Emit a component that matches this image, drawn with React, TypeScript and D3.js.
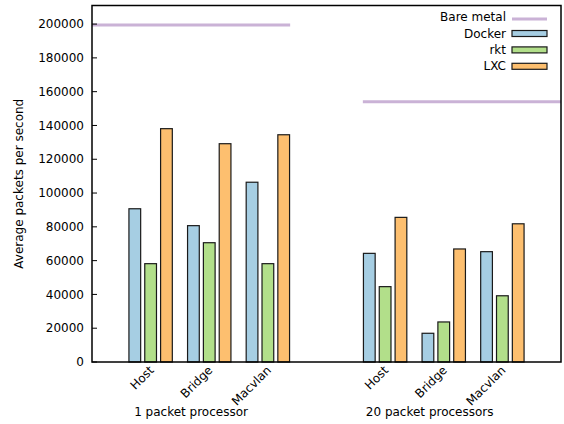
import React from "react";
import * as d3 from "d3";

// Throughput per networking mode, grouped by packet-processor count
const groups = ["1 packet processor", "20 packet processors"];
const modes = ["Host", "Bridge", "Macvlan"];
const series = ["Docker", "rkt", "LXC"];
const colors = ["#a6cee3", "#b2df8a", "#fdbf6f"];

const docker = [90700, 80700, 106400, 64300, 17000, 65300];
const rkt = [58200, 70600, 58200, 44600, 23700, 39200];
const lxc = [138100, 129200, 134500, 85600, 66900, 81800];
const bareMetal = [199400, 154100];

const categoryPos = [1, 2, 3, 5, 6, 7];
const groupLabelPos = [1.69, 5.76];
const groupSpan = [[0, 3.38], [4.62, 8]];
const yTicks = [0, 20000, 40000, 60000, 80000, 100000, 120000, 140000, 160000, 180000, 200000];

const W = 564;
const H = 424;
const left = 92;
const right = 561;
const top = 5.5;
const bottom = 362;
const FONT = "DejaVu Sans, sans-serif";

export default function App() {
  const x = d3.scaleLinear().domain([0, 8]).range([left, right]);
  const y = d3.scaleLinear().domain([0, 211000]).range([bottom, top]);
  const values = [docker, rkt, lxc];
  const offsets = [-0.27, 0, 0.27];
  const bw = x(0.2) - x(0);
  const labels = [...modes, ...modes];

  return (
    <svg
      width={W}
      height={H}
      style={{ position: "absolute", left: 0, top: 0, background: "#fff" }}
      fontFamily={FONT}
      fontSize={12}
    >
      {/* bars */}
      {values.map((vals, s) =>
        vals.map((v, i) => (
          <rect
            key={`${s}-${i}`}
            x={x(categoryPos[i] + offsets[s]) - bw / 2}
            y={y(v)}
            width={bw}
            height={y(0) - y(v)}
            fill={colors[s]}
            stroke="#1a1a1a"
            strokeWidth={1.2}
          />
        ))
      )}

      {/* bare metal reference lines */}
      {bareMetal.map((v, i) => (
        <line
          key={`bm${i}`}
          x1={x(groupSpan[i][0])}
          x2={x(groupSpan[i][1])}
          y1={y(v)}
          y2={y(v)}
          stroke="#cab2d6"
          strokeWidth={3}
        />
      ))}

      {/* frame */}
      <rect x={left} y={top} width={right - left} height={bottom - top} fill="none" stroke="#000" strokeWidth={1.5} />

      {/* y axis ticks */}
      {yTicks.map((t) => (
        <g key={t}>
          <line x1={left} x2={left + 5} y1={y(t)} y2={y(t)} stroke="#000" strokeWidth={1} />
          <text x={left - 8} y={y(t)} dy="0.35em" textAnchor="end" fill="#000">
            {t}
          </text>
        </g>
      ))}

      <text transform={`translate(23,${(top + bottom) / 2}) rotate(-90)`} textAnchor="middle" fill="#000">
        Average packets per second
      </text>

      {/* category labels */}
      {labels.map((l, i) => (
        <text
          key={`l${i}`}
          transform={`translate(${x(categoryPos[i]) + 4},${bottom + 9}) rotate(-45)`}
          textAnchor="end"
          fill="#000"
        >
          {l}
        </text>
      ))}

      {groups.map((g, i) => (
        <text key={g} x={x(groupLabelPos[i])} y={416} textAnchor="middle" fill="#000">
          {g}
        </text>
      ))}

      {/* legend */}
      <g>
        <text x={506} y={21} textAnchor="end" fill="#000">Bare metal</text>
        <line x1={512} x2={547} y1={19} y2={19} stroke="#cab2d6" strokeWidth={3} />
        {series.map((s, i) => (
          <g key={s}>
            <text x={506} y={37.5 + i * 16.4} textAnchor="end" fill="#000">
              {s}
            </text>
            <rect x={512} y={30.5 + i * 16.4} width={35} height={6} fill={colors[i]} stroke="#1a1a1a" strokeWidth={1.2} />
          </g>
        ))}
      </g>
    </svg>
  );
}
